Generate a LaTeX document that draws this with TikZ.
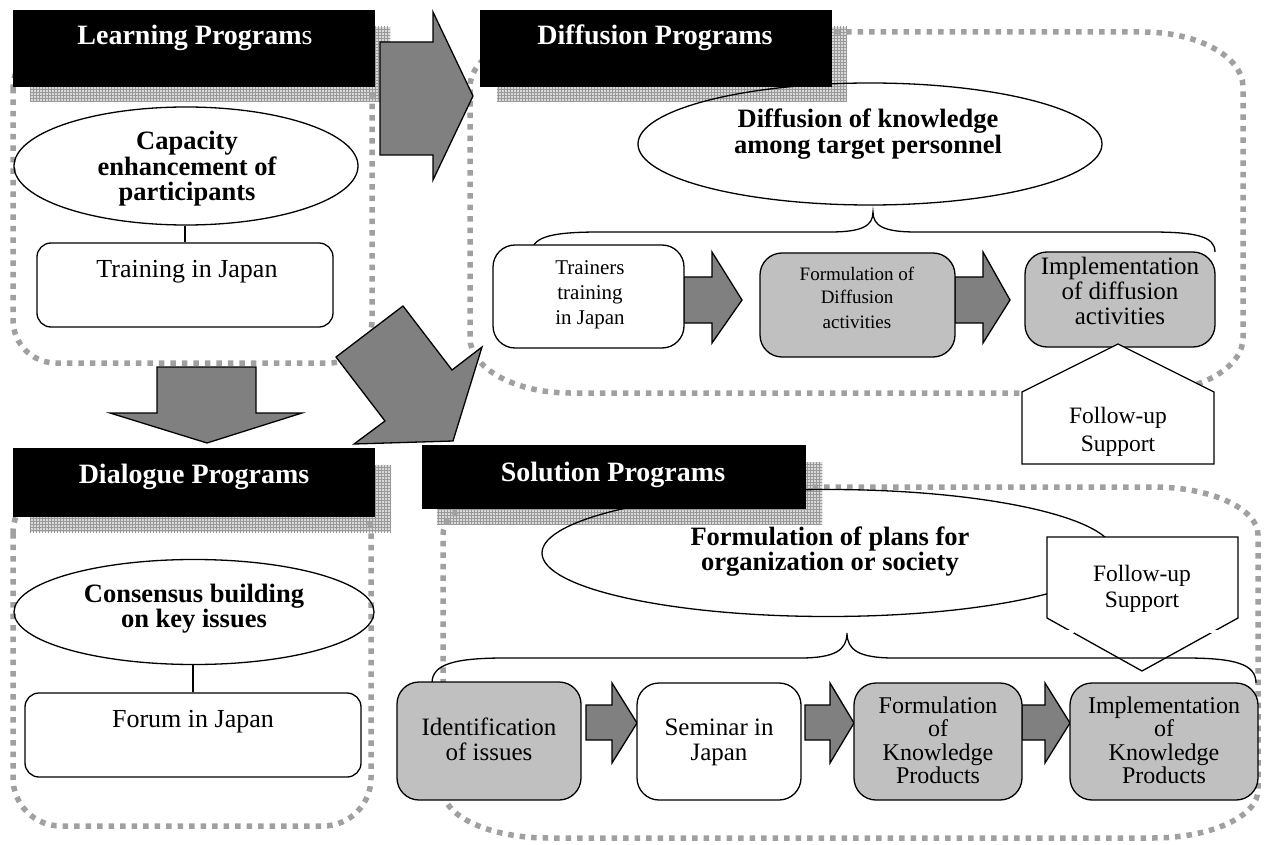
\documentclass[tikz,border=0pt]{standalone}
\usepackage{fontspec}
\setmainfont{Liberation Serif}
\usetikzlibrary{shapes.geometric,patterns}
\definecolor{dotgray}{RGB}{160,160,160}
\definecolor{boxgray}{RGB}{192,192,192}
\definecolor{arrgray}{RGB}{128,128,128}
\newcommand{\mlines}[1]{\vtop{\halign{\hfil##\hfil\cr#1\crcr}}}
\tikzset{
  dotbord/.style={draw=dotgray, line width=5.5pt, dash pattern=on 5.5pt off 6pt},
  shadowbox/.style={draw=none, preaction={fill=gray!30}, pattern=grid, pattern color=gray!80},
  hdr/.style={fill=black, draw=none, inner sep=0pt},
  ttl/.style={text=white, font=\fontsize{28}{30}\selectfont\bfseries, anchor=base, inner sep=0pt},
  elltext/.style={font=\fontsize{26.5}{25.5}\selectfont\bfseries, anchor=base, inner sep=0pt},
  ell/.style={draw, ellipse, line width=1.3pt, inner sep=0pt},
  wbox/.style={draw, line width=1.3pt, rounded corners=22pt, fill=white, inner sep=0pt},
  gbox/.style={wbox, fill=boxgray},
  txt/.style={font=\fontsize{25}{25}\selectfont, anchor=base, inner sep=0pt},
  bigarrow/.style={draw, line width=1.3pt, fill=arrgray, line join=miter},
  conn/.style={draw, line width=1.3pt},
}
\begin{document}
\begin{tikzpicture}[x=1pt,y=-1pt]
\path[use as bounding box] (0,0) rectangle (1267,845);

% ---- header shadows
\path[shadowbox] (30,27) rectangle (390,102);
\path[shadowbox] (497,27) rectangle (847,102);
\path[shadowbox] (30,465) rectangle (391,532);
\path[shadowbox] (437,462) rectangle (822,524);

% ---- dotted containers
\draw[dotbord, rounded corners=43pt] (13,45) rectangle (372,363);
\draw[dotbord, rounded corners=48pt] (13,485) rectangle (371,826);
\draw[dotbord] (570,32) -- (1143,32) .. controls (1198,32) and (1243,56.75) .. (1243,87)
  -- (1243,338) .. controls (1243,368.25) and (1198,393) .. (1143,393)
  -- (570,393) .. controls (515,393) and (470,368.25) .. (470,338)
  -- (470,87) .. controls (470,56.75) and (515,32) .. (570,32) -- cycle;
\draw[dotbord] (548,487) -- (1153,487) .. controls (1210.75,487) and (1258,508.6) .. (1258,535)
  -- (1258,790) .. controls (1258,816.4) and (1210.75,838) .. (1153,838)
  -- (548,838) .. controls (490.25,838) and (443,816.4) .. (443,790)
  -- (443,535) .. controls (443,508.6) and (490.25,487) .. (548,487) -- cycle;

% ---- big arrows between programs
\draw[bigarrow] (380,42) -- (433,42) -- (433,12) -- (473,96) -- (433,180) -- (433,155) -- (380,155) -- cycle;
\draw[bigarrow] (157,367) -- (256,367) -- (256,413) -- (302,413) -- (207,443) -- (110,413) -- (157,413) -- cycle;
\draw[bigarrow] (336,357) -- (403,306) -- (452,370) -- (482,347) -- (453,441) -- (354,444) -- (385,421) -- cycle;

% ---- Learning programs
\node[ell, minimum width=344pt, minimum height=118pt] (cap) at (186,166) {};
\node[elltext] (capt) at (187,150) {\mlines{Capacity\cr enhancement of\cr participants}};
\node[wbox, rounded corners=14pt, minimum width=296pt, minimum height=84pt] (train) at (185,285) {};
\node[txt, font=\fontsize{26}{26}\selectfont] (traint) at (187,277) {Training in Japan};
\draw[conn] (train.north) -- (train.north |- cap.south);

% ---- Dialogue programs
\node[ell, minimum width=360pt, minimum height=105pt] (cons) at (194,612) {};
\node[elltext] (const) at (194,602) {\mlines{Consensus building\cr on key issues}};
\node[wbox, rounded corners=14pt, minimum width=336pt, minimum height=84pt] (forum) at (193,735) {};
\node[txt, font=\fontsize{26}{26}\selectfont] (forumt) at (193,727) {Forum in Japan};
\draw[conn] (forum.north) -- (forum.north |- cons.south);

% ---- Diffusion programs
\node[ell, minimum width=464pt, minimum height=122pt] (dif) at (870,144) {};
\node[elltext] (dift) at (868,128) {\mlines{Diffusion of knowledge\cr among target personnel}};
\draw[conn] (532,252) .. controls (532,236) and (555,232) .. (600,232) -- (830,232)
  .. controls (862,232) and (873,226) .. (873,212)
  .. controls (873,226) and (884,232) .. (916,232) -- (1150,232)
  .. controls (1195,232) and (1215,236) .. (1215,252);
\draw[bigarrow] (684,277) -- (712,277) -- (712,252) -- (742,300) -- (712,343) -- (712,323) -- (684,323) -- cycle;
\draw[bigarrow] (955,277) -- (983,277) -- (983,252) -- (1010,300) -- (983,343) -- (983,323) -- (955,323) -- cycle;
\node[wbox, minimum width=191pt, minimum height=103pt] (trn) at (588.5,296.5) {};
\node[gbox, minimum width=195pt, minimum height=104pt] (fdif) at (857.5,305) {};
\node[gbox, minimum width=190pt, minimum height=95pt] (idif) at (1120,299.5) {};
\node[txt, font=\fontsize{21}{25}\selectfont] (trnt) at (590,275) {\mlines{Trainers\cr training\cr in Japan}};
\node[txt, font=\fontsize{19}{24}\selectfont] (fdift) at (857,280) {\mlines{Formulation of\cr Diffusion\cr activities}};
\node[txt] (idift) at (1120,275) {\mlines{Implementation\cr of diffusion\cr activities}};
\draw[line width=1.3pt, fill=white] (1118,344) -- (1214,392) -- (1214,464) -- (1022,464) -- (1022,392) -- cycle;
\node[txt, font=\fontsize{23.5}{28}\selectfont] (fu1) at (1118,423) {\mlines{Follow-up\cr Support}};

% ---- Solution programs
\node[ell, minimum width=572pt, minimum height=127pt] (sol) at (828,553) {};
\node[elltext] (solt) at (830,545) {\mlines{Formulation of plans for\cr organization or society}};
\draw[line width=1.3pt, fill=white] (1047,537) -- (1238,537) -- (1238,618) -- (1142,671) -- (1047,618) -- cycle;
\draw[white, line width=3pt] (1064,631) -- (1074,631) (1210,631) -- (1220,631);
\node[txt, font=\fontsize{23.5}{26}\selectfont] (fu2) at (1142,581) {\mlines{Follow-up\cr Support}};
\draw[conn] (432,683) .. controls (432,664) and (455,658) .. (505,658) -- (800,658)
  .. controls (835,658) and (847,650) .. (847,633)
  .. controls (847,650) and (859,658) .. (894,658) -- (1185,658)
  .. controls (1235,658) and (1256,664) .. (1256,683);
\draw[bigarrow] (586,705) -- (612,705) -- (612,683) -- (637,723) -- (612,763) -- (612,740) -- (586,740) -- cycle;
\draw[bigarrow] (805,705) -- (830,705) -- (830,683) -- (854,723) -- (830,763) -- (830,740) -- (805,740) -- cycle;
\draw[bigarrow] (1022,705) -- (1045,705) -- (1045,683) -- (1070,723) -- (1045,763) -- (1045,740) -- (1022,740) -- cycle;
\node[gbox, minimum width=184pt, minimum height=118pt] (iden) at (489,741) {};
\node[wbox, minimum width=164pt, minimum height=117pt] (sem) at (719,741.5) {};
\node[gbox, minimum width=168pt, minimum height=117pt] (fkp) at (938,741.5) {};
\node[gbox, minimum width=188pt, minimum height=117pt] (ikp) at (1164,741.5) {};
\node[txt] (ident) at (489,735) {\mlines{Identification\cr of issues}};
\node[txt] (semt) at (719,735) {\mlines{Seminar in\cr Japan}};
\node[txt, font=\fontsize{24}{23.5}\selectfont] (fkpt) at (938,713) {\mlines{Formulation\cr of\cr Knowledge\cr Products}};
\node[txt, font=\fontsize{24}{23.5}\selectfont] (ikpt) at (1164,713) {\mlines{Implementation\cr of\cr Knowledge\cr Products}};

% ---- black headers
\node[hdr, minimum width=362pt, minimum height=77pt] (hlearn) at (194,48.5) {};
\node[hdr, minimum width=352pt, minimum height=77pt] (hdiff) at (656,48.5) {};
\node[hdr, minimum width=362pt, minimum height=69pt] (hdial) at (194,482.5) {};
\node[hdr, minimum width=384pt, minimum height=64pt] (hsol) at (614,477) {};
\node[ttl] (tlearn) at (195,45) {Learning Program\textmd{s}};
\node[ttl] (tdiff) at (655,45) {Diffusion Programs};
\node[ttl] (tdial) at (194,483) {Dialogue Programs};
\node[ttl] (tsol) at (613,481) {Solution Programs};
\end{tikzpicture}
\end{document}
